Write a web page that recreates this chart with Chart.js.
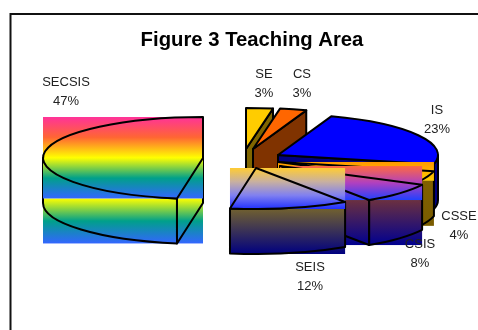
<!DOCTYPE html>
<html>
<head>
<meta charset="utf-8">
<title>Figure 3 Teaching Area</title>
<script src="https://cdn.jsdelivr.net/npm/chart.js@4"></script>
<style>
  html, body { margin: 0; padding: 0; background: #fff; }
  canvas { display: block; }
</style>
</head>
<body>
<canvas id="chart" width="478" height="330"></canvas>
<script>
const titleText = 'Figure 3 Teaching Area'
const categories = ['SE', 'CS', 'IS', 'CSSE', 'CSIS', 'SEIS', 'SECSIS']
const shares = [2.7, 2.7, 23.2, 4, 8, 12, 47.4]

// 饼图投影参数
const pie = { cx: 245, cy: 159, rx: 160, ry: 41, depth: 45 }
const sliceShift = [[1, -10], [8, -10], [33, -4], [33, 3], [35, 7], [11, 9], [-42, -1]]
const labelAnchors = [[264, 74], [302, 74], [437, 110], [459, 216], [420, 244], [310, 267], [66, 82]]

// 每块的配色：solid 只填形状，gradient 填满外接矩形
const sliceStyles = [
  { top: '#ffcc00', side: '#806600' },
  { top: '#ff6600', side: '#803300' },
  { top: '#0000ff', side: '#000080' },
  { topStops: ['#ff9900', '#ffcc00'], sideStops: ['#806000', '#7a5c00'] },
  { topStops: ['#ff6a40', '#b040c0', '#2040ff'], sideStops: ['#6b3040', '#000090'] },
  { topStops: ['#ffcc33', '#c8b0a0', '#8080f0', '#2030ff'], sideStops: ['#706030', '#000080'] },
  {
    topStops: ['#ff3399', '#ff6633', '#ffff00', '#00a08a', '#3366ff'],
    sideStops: ['#ffff00', '#00a08a', '#3366ff']
  }
]

const makeGradient = (ctx, stops, y0, y1) => {
  const g = ctx.createLinearGradient(0, y0, 0, y1)
  stops.forEach((c, i) => g.addColorStop(i / (stops.length - 1), c))
  return g
}

const threeDPie = {
  id: 'threeDPie',
  beforeDraw: chart => {
    const ctx = chart.ctx
    ctx.save()
    ctx.fillStyle = '#fff'
    ctx.fillRect(0, 0, chart.width, chart.height)
    ctx.strokeStyle = '#111'
    ctx.lineWidth = 2
    ctx.beginPath()
    ctx.moveTo(chart.width, 14)
    ctx.lineTo(10.5, 14)
    ctx.lineTo(10.5, chart.height)
    ctx.stroke()
    ctx.restore()
  },
  // 默认的平面饼不画，角度取自库算好的 arc 元素
  beforeDatasetDraw: chart => {
    const ctx = chart.ctx
    chart.getDatasetMeta(0).data.forEach((el, i) => drawSlice(ctx, el, i))
    return false
  },
  afterDraw: chart => {
    const ctx = chart.ctx
    ctx.save()
    ctx.fillStyle = '#222'
    ctx.font = '13px "Liberation Sans", Arial, sans-serif'
    ctx.textAlign = 'center'
    ctx.textBaseline = 'middle'
    categories.forEach((name, i) => {
      const [x, y] = labelAnchors[i]
      ctx.fillText(name, x, y)
      ctx.fillText(Math.round(shares[i]) + '%', x, y + 19)
    })
    ctx.restore()
  }
}

function drawSlice(ctx, el, i) {
  const style = sliceStyles[i]
  const a0 = el.startAngle
  const a1 = el.endAngle
  const cx = pie.cx + sliceShift[i][0]
  const cy = pie.cy + sliceShift[i][1]
  const px = a => cx + pie.rx * Math.cos(a)
  const py = a => cy + pie.ry * Math.sin(a)

  // 外接矩形
  const xs = [cx, px(a0), px(a1)]
  const ys = [cy, py(a0), py(a1)]
  for (let k = -1; k <= 2; k++) {
    const a = k * Math.PI / 2
    if (a > a0 && a < a1) {
      xs.push(px(a))
      ys.push(py(a))
    }
  }
  const left = Math.min(...xs)
  const right = Math.max(...xs)
  const top = Math.min(...ys)
  const bottom = Math.max(...ys)

  // 前半圈的外壁
  const w0 = Math.max(a0, 0)
  const w1 = Math.min(a1, Math.PI)
  const hasWall = w1 > w0
  const wallPath = () => {
    ctx.beginPath()
    ctx.moveTo(px(w0), py(w0))
    ctx.lineTo(px(w0), py(w0) + pie.depth)
    ctx.ellipse(cx, cy + pie.depth, pie.rx, pie.ry, 0, w0, w1)
    ctx.lineTo(px(w1), py(w1))
    ctx.ellipse(cx, cy, pie.rx, pie.ry, 0, w1, w0, true)
    ctx.closePath()
  }
  // 朝向观察者的切面
  const faces = []
  if (Math.cos(a0) < -1e-6) faces.push(a0)
  if (Math.cos(a1) > 1e-6) faces.push(a1)
  const facePath = a => {
    ctx.beginPath()
    ctx.moveTo(cx, cy)
    ctx.lineTo(px(a), py(a))
    ctx.lineTo(px(a), py(a) + pie.depth)
    ctx.lineTo(cx, cy + pie.depth)
    ctx.closePath()
  }
  const topPath = () => {
    ctx.beginPath()
    ctx.moveTo(cx, cy)
    ctx.ellipse(cx, cy, pie.rx, pie.ry, 0, a0, a1)
    ctx.closePath()
  }

  ctx.save()
  ctx.lineWidth = 2
  ctx.lineJoin = 'round'
  ctx.strokeStyle = '#000'

  // 侧面
  if (style.sideStops) {
    ctx.fillStyle = makeGradient(ctx, style.sideStops, bottom, bottom + pie.depth)
    ctx.fillRect(left, bottom, right - left, pie.depth)
  } else {
    ctx.fillStyle = style.side
    faces.forEach(a => { facePath(a); ctx.fill() })
    if (hasWall) { wallPath(); ctx.fill() }
  }
  faces.forEach(a => { facePath(a); ctx.stroke() })
  if (hasWall) { wallPath(); ctx.stroke() }

  // 顶面
  if (style.topStops) {
    ctx.fillStyle = makeGradient(ctx, style.topStops, top, bottom)
    ctx.fillRect(left, top, right - left, bottom - top)
  } else {
    ctx.fillStyle = style.top
    topPath()
    ctx.fill()
  }
  topPath()
  ctx.stroke()
  ctx.restore()
}

new Chart(document.getElementById('chart'), {
  type: 'pie',
  data: {
    labels: categories,
    datasets: [{ data: shares, borderWidth: 0 }]
  },
  options: {
    responsive: false,
    animation: false,
    rotation: 0,
    layout: { padding: { left: 26 } },
    plugins: {
      legend: { display: false },
      tooltip: { enabled: false },
      title: {
        display: true,
        text: titleText,
        color: '#000',
        font: { family: '"Liberation Sans", Arial, sans-serif', size: 20.3, weight: 'bold' },
        padding: { top: 28, bottom: 10 }
      }
    }
  },
  plugins: [threeDPie]
})
</script>
</body>
</html>
